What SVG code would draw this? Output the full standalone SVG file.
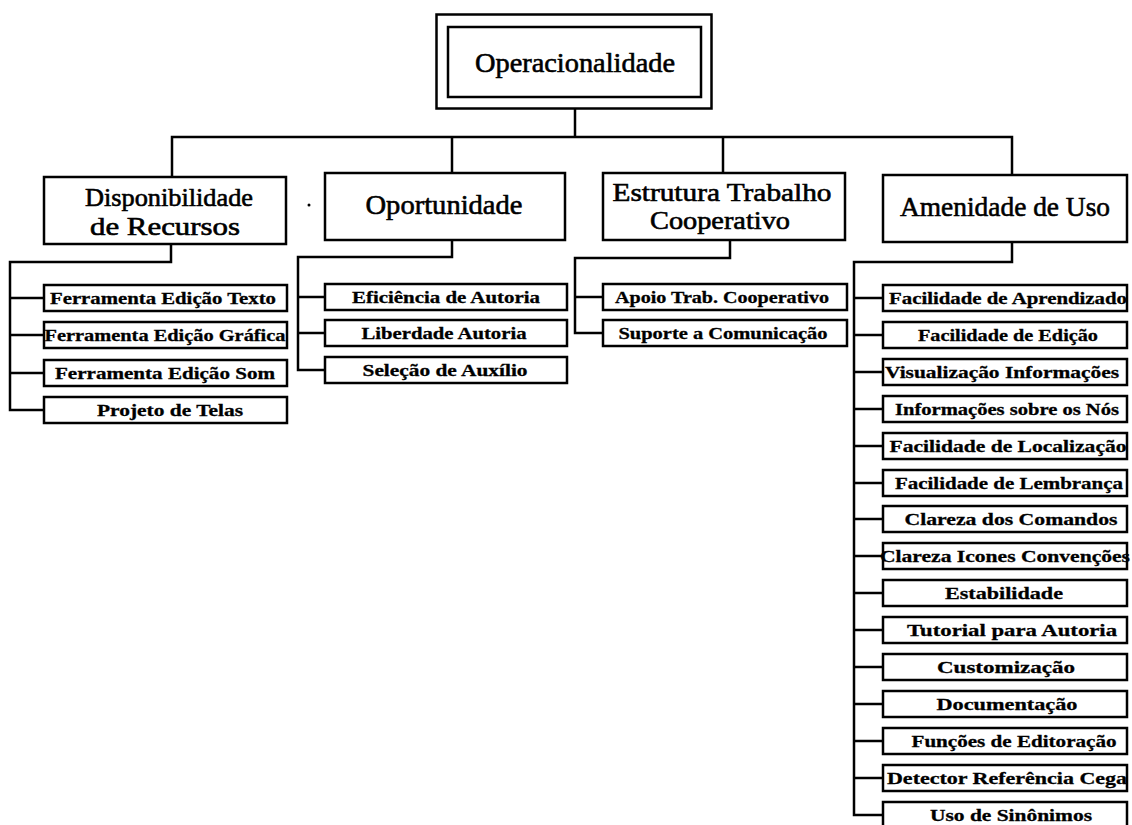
<svg xmlns="http://www.w3.org/2000/svg" width="1132" height="825" viewBox="0 0 1132 825">
  <style>
    .box { fill: #fff; stroke: #000; stroke-width: 2.5; }
    .wire { fill: none; stroke: #000; stroke-width: 2.5; stroke-linejoin: miter; }
    .title { font-family: "Liberation Serif", "Times New Roman", serif; font-size: 28px; text-anchor: middle; fill: #000; stroke: #000; stroke-width: 0.6; }
    .cat { font-family: "Liberation Serif", "Times New Roman", serif; font-size: 28px; text-anchor: middle; fill: #000; stroke: #000; stroke-width: 0.6; }
    .cat-sm { font-size: 25px; }
    .leaf { font-family: "Liberation Serif", "Times New Roman", serif; font-size: 17px; font-weight: bold; text-anchor: middle; fill: #000; stroke: #000; stroke-width: 0.3; }
  </style>

  <rect width="1132" height="825" fill="#fff"/>

  <!-- connectors -->
  <g id="connectors" class="wire">
    <!-- root to categories -->
    <path d="M575 109 V137"/>
    <path d="M172 177 V137 H1012 V175"/>
    <path d="M452 137 V173"/>
    <path d="M723 137 V173"/>
    <!-- Disponibilidade de Recursos branch -->
    <path d="M171 244 V262 H10 V410 H44"/>
    <path d="M10 298 H44 M10 335 H44 M10 373 H44"/>
    <!-- Oportunidade branch -->
    <path d="M452 240 V257 H298 V370 H325"/>
    <path d="M298 297 H325 M298 333 H325"/>
    <!-- Estrutura Trabalho Cooperativo branch -->
    <path d="M730 240 V258 H575 V333 H603"/>
    <path d="M575 297 H603"/>
    <!-- Amenidade de Uso branch -->
    <path d="M1012 242 V262 H854 V815 H883"/>
    <path d="M854 298 H883 M854 335 H883 M854 372 H883 M854 409 H883 M854 446 H883 M854 483 H883 M854 519 H883 M854 556 H883 M854 593 H883 M854 630 H883 M854 667 H883 M854 704 H883 M854 741 H883 M854 778 H883"/>
  </g>

  <!-- root -->
  <g id="operacionalidade">
    <rect class="box" x="436.5" y="14.5" width="275" height="94"/>
    <rect class="box" x="448" y="27" width="253" height="70" stroke-width="3"/>
    <text class="title" x="575" y="72" textLength="200" lengthAdjust="spacingAndGlyphs">Operacionalidade</text>
  </g>

  <!-- categories -->
  <g id="disponibilidade-recursos">
    <rect class="box" x="44" y="177" width="242" height="67"/>
    <text class="cat cat-sm" x="169" y="206" textLength="168" lengthAdjust="spacingAndGlyphs">Disponibilidade</text>
    <text class="cat cat-sm" x="165" y="235" textLength="150" lengthAdjust="spacingAndGlyphs">de  Recursos</text>
  </g>
  <g id="oportunidade">
    <rect class="box" x="325" y="173" width="240" height="67"/>
    <text class="cat" x="444" y="214" textLength="157" lengthAdjust="spacingAndGlyphs">Oportunidade</text>
  </g>
  <g id="estrutura-trabalho-cooperativo">
    <rect class="box" x="603" y="173" width="242" height="67"/>
    <text class="cat cat-sm" x="722" y="201" textLength="219" lengthAdjust="spacingAndGlyphs">Estrutura Trabalho</text>
    <text class="cat cat-sm" x="720" y="229" textLength="140" lengthAdjust="spacingAndGlyphs">Cooperativo</text>
  </g>
  <g id="amenidade-de-uso">
    <rect class="box" x="883" y="175" width="244" height="67"/>
    <text class="cat" x="1005" y="216" textLength="210" lengthAdjust="spacingAndGlyphs">Amenidade de Uso</text>
  </g>

  <!-- dot beside Oportunidade -->
  <circle cx="309" cy="205" r="1.5" fill="#000"/>

  <!-- leaves: Disponibilidade de Recursos -->
  <g id="ferramenta-edicao-texto"><rect class="box" x="44" y="285" width="243" height="26"/><text class="leaf" x="163" y="304" textLength="226" lengthAdjust="spacingAndGlyphs">Ferramenta Edição Texto</text></g>
  <g id="ferramenta-edicao-grafica"><rect class="box" x="44" y="322" width="243" height="26"/><text class="leaf" x="165" y="341" textLength="241" lengthAdjust="spacingAndGlyphs">Ferramenta Edição Gráfica</text></g>
  <g id="ferramenta-edicao-som"><rect class="box" x="44" y="360" width="243" height="26"/><text class="leaf" x="165" y="379" textLength="220" lengthAdjust="spacingAndGlyphs">Ferramenta Edição Som</text></g>
  <g id="projeto-de-telas"><rect class="box" x="44" y="397" width="243" height="26"/><text class="leaf" x="170" y="416" textLength="146" lengthAdjust="spacingAndGlyphs">Projeto de Telas</text></g>

  <!-- leaves: Oportunidade -->
  <g id="eficiencia-de-autoria"><rect class="box" x="325" y="284" width="242" height="26"/><text class="leaf" x="446" y="303" textLength="188" lengthAdjust="spacingAndGlyphs">Eficiência de Autoria</text></g>
  <g id="liberdade-autoria"><rect class="box" x="325" y="320" width="242" height="26"/><text class="leaf" x="444" y="339" textLength="165" lengthAdjust="spacingAndGlyphs">Liberdade Autoria</text></g>
  <g id="selecao-de-auxilio"><rect class="box" x="325" y="357" width="242" height="26"/><text class="leaf" x="445" y="376" textLength="165" lengthAdjust="spacingAndGlyphs">Seleção de Auxílio</text></g>

  <!-- leaves: Estrutura Trabalho Cooperativo -->
  <g id="apoio-trab-cooperativo"><rect class="box" x="603" y="284" width="244" height="26"/><text class="leaf" x="722" y="303" textLength="214" lengthAdjust="spacingAndGlyphs">Apoio Trab. Cooperativo</text></g>
  <g id="suporte-a-comunicacao"><rect class="box" x="603" y="320" width="244" height="26"/><text class="leaf" x="723" y="339" textLength="209" lengthAdjust="spacingAndGlyphs">Suporte a Comunicação</text></g>

  <!-- leaves: Amenidade de Uso -->
  <g id="facilidade-de-aprendizado"><rect class="box" x="883" y="285" width="244" height="26"/><text class="leaf" x="1008" y="304" textLength="238" lengthAdjust="spacingAndGlyphs">Facilidade de Aprendizado</text></g>
  <g id="facilidade-de-edicao"><rect class="box" x="883" y="322" width="244" height="26"/><text class="leaf" x="1008" y="341" textLength="180" lengthAdjust="spacingAndGlyphs">Facilidade de Edição</text></g>
  <g id="visualizacao-informacoes"><rect class="box" x="883" y="359" width="244" height="26"/><text class="leaf" x="1002" y="378" textLength="234" lengthAdjust="spacingAndGlyphs">Visualização Informações</text></g>
  <g id="informacoes-sobre-os-nos"><rect class="box" x="883" y="396" width="244" height="26"/><text class="leaf" x="1007" y="415" textLength="224" lengthAdjust="spacingAndGlyphs">Informações sobre os Nós</text></g>
  <g id="facilidade-de-localizacao"><rect class="box" x="883" y="433" width="244" height="26"/><text class="leaf" x="1008" y="452" textLength="237" lengthAdjust="spacingAndGlyphs">Facilidade de Localização</text></g>
  <g id="facilidade-de-lembranca"><rect class="box" x="883" y="470" width="244" height="26"/><text class="leaf" x="1009" y="489" textLength="228" lengthAdjust="spacingAndGlyphs">Facilidade de Lembrança</text></g>
  <g id="clareza-dos-comandos"><rect class="box" x="883" y="506" width="244" height="26"/><text class="leaf" x="1011" y="525" textLength="213" lengthAdjust="spacingAndGlyphs">Clareza dos Comandos</text></g>
  <g id="clareza-icones-convencoes"><rect class="box" x="883" y="543" width="244" height="26"/><text class="leaf" x="1005" y="562" textLength="250" lengthAdjust="spacingAndGlyphs">Clareza Icones Convenções</text></g>
  <g id="estabilidade"><rect class="box" x="883" y="580" width="244" height="26"/><text class="leaf" x="1004" y="599" textLength="118" lengthAdjust="spacingAndGlyphs">Estabilidade</text></g>
  <g id="tutorial-para-autoria"><rect class="box" x="883" y="617" width="244" height="26"/><text class="leaf" x="1012" y="636" textLength="210" lengthAdjust="spacingAndGlyphs">Tutorial para Autoria</text></g>
  <g id="customizacao"><rect class="box" x="883" y="654" width="244" height="26"/><text class="leaf" x="1006" y="673" textLength="138" lengthAdjust="spacingAndGlyphs">Customização</text></g>
  <g id="documentacao"><rect class="box" x="883" y="691" width="244" height="26"/><text class="leaf" x="1007" y="710" textLength="141" lengthAdjust="spacingAndGlyphs">Documentação</text></g>
  <g id="funcoes-de-editoracao"><rect class="box" x="883" y="728" width="244" height="26"/><text class="leaf" x="1014" y="747" textLength="205" lengthAdjust="spacingAndGlyphs">Funções de Editoração</text></g>
  <g id="detector-referencia-cega"><rect class="box" x="883" y="765" width="244" height="26"/><text class="leaf" x="1007" y="784" textLength="240" lengthAdjust="spacingAndGlyphs">Detector Referência Cega</text></g>
  <g id="uso-de-sinonimos"><rect class="box" x="883" y="802" width="244" height="26"/><text class="leaf" x="1011" y="821" textLength="162" lengthAdjust="spacingAndGlyphs">Uso de Sinônimos</text></g>
</svg>
